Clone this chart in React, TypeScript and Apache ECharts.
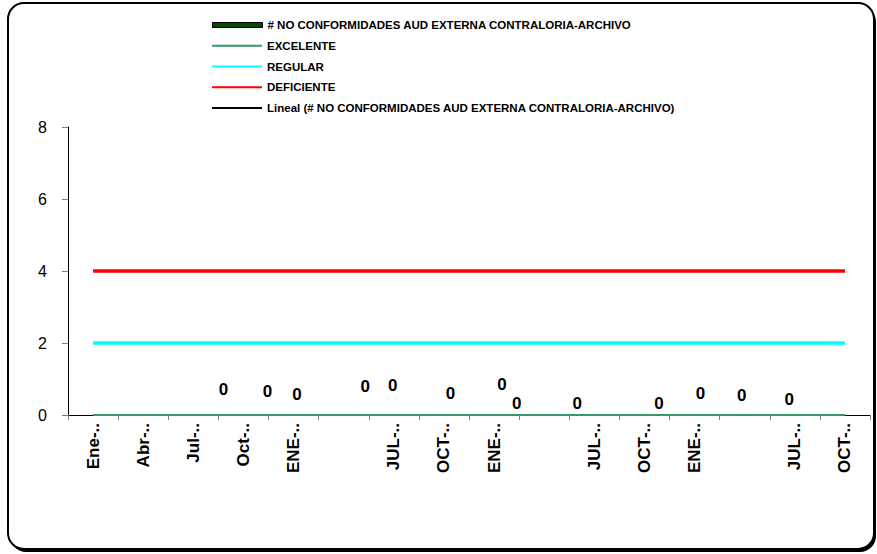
import React, { useEffect, useRef } from "react";
import * as echarts from "echarts";

const categories = ["Ene-..", "Abr-..", "Jul-..", "Oct-..", "ENE-..", "", "JUL-..", "OCT-..", "ENE-..", "", "JUL-..", "OCT-..", "ENE-..", "", "JUL-..", "OCT-.."];
const excelente = [0, 0, 0, 0, 0, 0, 0, 0, 0, 0, 0, 0, 0, 0, 0, 0];
const regular = [2, 2, 2, 2, 2, 2, 2, 2, 2, 2, 2, 2, 2, 2, 2, 2];
const deficiente = [4, 4, 4, 4, 4, 4, 4, 4, 4, 4, 4, 4, 4, 4, 4, 4];
const lineal = [0, 0, 0, 0, 0, 0, 0, 0, 0, 0, 0, 0, 0, 0, 0, 0];
const noConformidades = [0, 0, 0, 0, 0, 0, 0, 0, 0, 0, 0, 0, 0];
const pointAt = [3.1, 3.98, 4.57, 5.93, 6.48, 7.63, 8.66, 8.95, 10.16, 11.79, 12.62, 13.44, 14.39];
const labelRise = [26, 24, 21, 29, 30, 22, 31, 12, 12, 12, 22, 20, 16];
const yTicks = { min: 0, max: 8, interval: 2 };

const NAME_NC = "# NO CONFORMIDADES AUD EXTERNA CONTRALORIA-ARCHIVO";
const NAME_LIN = "Lineal (# NO CONFORMIDADES AUD EXTERNA CONTRALORIA-ARCHIVO)";
const FONT = "Liberation Sans, Arial, sans-serif";

const legendText = { fontFamily: FONT, fontWeight: "bold", fontSize: 11.5, color: "#000", lineHeight: 14 };

export default function App() {
  const ref = useRef<HTMLDivElement>(null);
  useEffect(() => {
    if (!ref.current) return;
    const chart = echarts.init(ref.current, null, { renderer: "svg" });
    chart.setOption({
      animation: false,
      backgroundColor: "#ffffff",
      textStyle: { fontFamily: FONT },
      graphic: [
        { type: "rect", z: -2, shape: { x: 10, y: 6, width: 866, height: 546, r: 16 }, style: { fill: "#000" }, silent: true },
        { type: "rect", z: -1, shape: { x: 8, y: 3, width: 866, height: 546, r: 16 }, style: { fill: "#fff", stroke: "#000", lineWidth: 2 }, silent: true },
      ],
      legend: [
        {
          orient: "vertical",
          left: 212,
          top: 18,
          padding: 0,
          itemWidth: 50,
          itemHeight: 5,
          itemGap: 7,
          textStyle: legendText,
          selectedMode: false,
          data: [
            { name: NAME_NC, icon: "rect", itemStyle: { color: "#004d00", borderColor: "#000", borderWidth: 1, opacity: 1 } },
          ],
        },
        {
          orient: "vertical",
          left: 212,
          top: 38.7,
          padding: 0,
          itemWidth: 50,
          itemHeight: 2,
          itemGap: 6.8,
          textStyle: legendText,
          selectedMode: false,
          data: [
            { name: "EXCELENTE", icon: "rect", itemStyle: { color: "#339966" } },
            { name: "REGULAR", icon: "rect", itemStyle: { color: "#00FFFF" } },
            { name: "DEFICIENTE", icon: "rect", itemStyle: { color: "#FF0000" } },
            { name: NAME_LIN, icon: "rect", itemStyle: { color: "#000000" } },
          ],
        },
      ],
      grid: { left: 68, right: 7, top: 127, bottom: 139 },
      xAxis: [
        {
          type: "category",
          data: categories,
          boundaryGap: true,
          axisLine: { show: true, lineStyle: { color: "#000", width: 1 } },
          axisTick: { show: true, length: 5, interval: 0, lineStyle: { color: "#808080" } },
          axisLabel: { interval: 0, rotate: 90, margin: 8, fontFamily: FONT, fontWeight: "bold", fontSize: 17, color: "#000" },
          splitLine: { show: false },
        },
        { type: "value", min: 0, max: 16, show: false },
      ],
      yAxis: {
        type: "value",
        min: yTicks.min,
        max: yTicks.max,
        interval: yTicks.interval,
        axisLine: { show: true, lineStyle: { color: "#000", width: 1 } },
        axisTick: { show: true, length: 6, lineStyle: { color: "#808080" } },
        axisLabel: { margin: 21, fontFamily: FONT, fontSize: 16, color: "#000" },
        splitLine: { show: false },
      },
      series: [
        {
          name: NAME_LIN,
          type: "line",
          data: lineal,
          symbol: "none",
          lineStyle: { color: "#000", width: 1.5 },
          itemStyle: { color: "#000" },
          z: 2,
        },
        {
          name: "EXCELENTE",
          type: "line",
          data: excelente,
          symbol: "none",
          lineStyle: { color: "#339966", width: 2 },
          itemStyle: { color: "#339966" },
          z: 3,
        },
        {
          name: "REGULAR",
          type: "line",
          data: regular,
          symbol: "none",
          lineStyle: { color: "#00FFFF", width: 3.5 },
          itemStyle: { color: "#00FFFF" },
          z: 3,
        },
        {
          name: "DEFICIENTE",
          type: "line",
          data: deficiente,
          symbol: "none",
          lineStyle: { color: "#FF0000", width: 3.5 },
          itemStyle: { color: "#FF0000" },
          z: 3,
        },
        {
          name: NAME_NC,
          type: "scatter",
          xAxisIndex: 1,
          yAxisIndex: 0,
          symbolSize: 0,
          itemStyle: { color: "#004d00", opacity: 1 },
          data: noConformidades.map((v, i) => ({
            value: [pointAt[i], v],
            label: { offset: [0, -labelRise[i]] },
          })),
          label: {
            show: true,
            position: "inside",
            formatter: (p: any) => String(p.value[1]),
            fontFamily: FONT,
            fontWeight: "bold",
            fontSize: 17,
            color: "#000",
          },
          z: 5,
        },
      ],
    });
    return () => chart.dispose();
  }, []);
  return <div ref={ref} style={{ position: "fixed", left: 0, top: 0, width: 877, height: 554 }} />;
}
